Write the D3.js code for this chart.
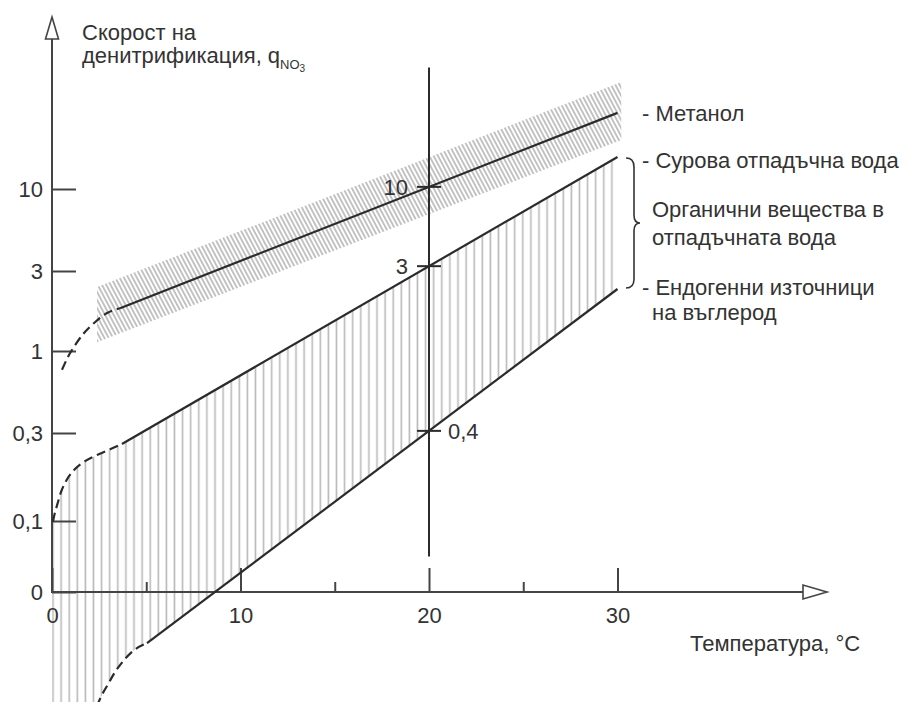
<!DOCTYPE html>
<html>
<head>
<meta charset="utf-8">
<script src="https://cdn.jsdelivr.net/npm/d3@7"></script>
<style>
  html, body { margin: 0; padding: 0; background: #fff; }
  svg { display: block; }
  text { font-family: "Liberation Sans", Arial, Helvetica, sans-serif; fill: #333; }
</style>
</head>
<body>
<svg id="chart" width="901" height="702"></svg>
<script>
// ---- Axis ticks ----------------------------------------------------------
const tempMajor = [0, 10, 20, 30];          // °C, labelled
const tempMinor = [5, 15, 25];              // °C, short ticks
const rateTicks = [0, 0.1, 0.3, 1, 3, 10];  // denitrification rate q_NO3
const rateAt20 = [10, 3, 0.4];              // rates marked on the 20 °C scale

// ---- Series: [temperature °C, rate] --------------------------------------
// Methanol as carbon source
const methanolCurve = [[0.53, 0.84], [0.85, 0.95], [1.27, 1.18], [1.70, 1.45],
                       [2.28, 1.72], [2.92, 1.95], [3.61, 2.07]];
const methanolLine = [[3.61, 2.07], [30, 28.8]];
const methanolBandUpper = [[2.39, 2.6], [30.2, 36.4]];
const methanolBandLower = [[2.39, 1.22], [30.2, 22.1]];

// Raw wastewater (upper edge of the organic-matter range)
const rawCurve = [[0.05, 0.099], [0.11, 0.111], [0.27, 0.136], [0.48, 0.166],
                  [0.80, 0.195], [1.22, 0.218], [1.75, 0.236], [2.39, 0.250],
                  [3.08, 0.263], [3.71, 0.275]];
const rawLine = [[3.71, 0.275], [30, 17.9]];

// Endogenous carbon sources (lower edge of the range)
const endoCurve = [[2.20, -0.180], [2.39, -0.161], [2.65, -0.145], [2.97, -0.130],
                   [3.34, -0.113], [3.82, -0.096], [4.35, -0.082], [5.04, -0.072]];
const endoLine = [[5.04, -0.072], [30, 2.55]];

// ---- Scales ---------------------------------------------------------------
const svg = d3.select("#chart");
const x = d3.scaleLinear().domain([0, 30]).range([52, 617.5]);
// quasi-logarithmic rate axis with evenly spaced steps
const y = d3.scaleLinear()
  .domain([0, 0.1, 0.3, 1, 3, 10, 30])
  .range([592, 521, 433, 351, 271, 189, 108]);

const ink = "#2b2b2b";
const axisInk = "#444";
const fs = 22;
const fmt = d => String(d).replace(".", ",");

const lineGen = d3.line().x(d => x(d[0])).y(d => y(d[1]));
const curveGen = d3.line().x(d => x(d[0])).y(d => y(d[1])).curve(d3.curveMonotoneX);

// ---- Hatch patterns -------------------------------------------------------
const defs = svg.append("defs");
const vh = defs.append("pattern").attr("id", "vhatch")
  .attr("patternUnits", "userSpaceOnUse")
  .attr("x", 49).attr("y", 0).attr("width", 8.1).attr("height", 20);
vh.append("line").attr("x1", 4).attr("x2", 4).attr("y1", -1).attr("y2", 21)
  .attr("stroke", "#b9b9b9").attr("stroke-width", 1.6);

const dh = defs.append("pattern").attr("id", "dhatch")
  .attr("patternUnits", "userSpaceOnUse")
  .attr("width", 3.8).attr("height", 10)
  .attr("patternTransform", "rotate(-28)");
dh.append("line").attr("x1", 1.9).attr("x2", 1.9).attr("y1", -1).attr("y2", 11)
  .attr("stroke", "#a4a4a4").attr("stroke-width", 1.3);

// ---- Organic-matter range (vertical hatching) ----------------------------
const rangeOutline = [
  ...rawCurve, rawLine[1],
  endoLine[1], ...endoCurve.slice().reverse(),
  [2.0, -0.3], [0, -0.3], [0, rawCurve[0][1]]
];
svg.append("path")
  .attr("d", lineGen(rangeOutline) + "Z")
  .attr("fill", "url(#vhatch)");

// ---- Methanol scatter band (diagonal hatching) ---------------------------
const bandOutline = [methanolBandUpper[0], methanolBandUpper[1],
                     methanolBandLower[1], methanolBandLower[0]];
svg.append("path")
  .attr("d", lineGen(bandOutline) + "Z")
  .attr("fill", "url(#dhatch)");

// ---- Axes -----------------------------------------------------------------
const styleAxis = g => {
  g.select(".domain").remove();
  g.selectAll(".tick line").attr("stroke", axisInk).attr("stroke-width", 2);
  g.selectAll(".tick text").attr("font-size", fs).attr("fill", "#333")
    .attr("font-family", "Liberation Sans, Arial, sans-serif");
};

svg.append("g")
  .attr("transform", `translate(${x(0)},0)`)
  .call(d3.axisLeft(y).tickValues(rateTicks).tickSize(-24).tickPadding(9).tickFormat(fmt))
  .call(styleAxis);

svg.append("g")
  .attr("transform", `translate(0,${y(0)})`)
  .call(d3.axisBottom(x).tickValues(tempMajor).tickSize(-24).tickPadding(15).tickFormat(fmt))
  .call(styleAxis);

svg.append("g")
  .attr("transform", `translate(0,${y(0)})`)
  .call(d3.axisBottom(x).tickValues(tempMinor).tickSize(-10).tickFormat(""))
  .call(styleAxis);

// axis lines with open arrowheads
const x0 = x(0), y0 = y(0);
const yTop = 17, xEnd = 827;
svg.append("line").attr("x1", x0).attr("x2", x0).attr("y1", y0 + 1).attr("y2", yTop + 22)
  .attr("stroke", axisInk).attr("stroke-width", 2);
svg.append("path")
  .attr("d", `M${x0},${yTop} L${x0 + 6.5},${yTop + 22} L${x0 - 6.5},${yTop + 22} Z`)
  .attr("fill", "#fff").attr("stroke", axisInk).attr("stroke-width", 1.6);
svg.append("line").attr("x1", x0 - 1).attr("x2", xEnd - 24).attr("y1", y0).attr("y2", y0)
  .attr("stroke", axisInk).attr("stroke-width", 2);
svg.append("path")
  .attr("d", `M${xEnd},${y0} L${xEnd - 24},${y0 - 7} L${xEnd - 24},${y0 + 7} Z`)
  .attr("fill", "#fff").attr("stroke", axisInk).attr("stroke-width", 1.6);

// ---- Series lines ---------------------------------------------------------
const solid = [methanolLine, rawLine, endoLine];
const dashed = [methanolCurve, rawCurve, endoCurve];

svg.selectAll("path.solid").data(solid).join("path")
  .attr("class", "solid")
  .attr("d", lineGen)
  .attr("fill", "none").attr("stroke", ink).attr("stroke-width", 2.2);

svg.selectAll("path.dashed").data(dashed).join("path")
  .attr("class", "dashed")
  .attr("d", curveGen)
  .attr("fill", "none").attr("stroke", ink).attr("stroke-width", 2.2)
  .attr("stroke-dasharray", "9,5");

// ---- 20 °C reference scale ------------------------------------------------
const x20 = x(20);
svg.append("line").attr("x1", x20).attr("x2", x20)
  .attr("y1", y(0.05)).attr("y2", y(40))
  .attr("stroke", ink).attr("stroke-width", 2);

// where each line crosses 20 °C
const crossAt20 = seg => {
  const [a, b] = seg;
  const t = (20 - a[0]) / (b[0] - a[0]);
  return y(a[1]) + t * (y(b[1]) - y(a[1]));
};
solid.forEach((seg, i) => {
  const yy = crossAt20(seg);
  svg.append("line").attr("x1", x20 - 12).attr("x2", x20 + 12)
    .attr("y1", yy).attr("y2", yy)
    .attr("stroke", ink).attr("stroke-width", 2);
  const right = i === solid.length - 1;
  svg.append("text")
    .attr("x", right ? x20 + 19 : x20 - 21)
    .attr("y", yy).attr("dy", "0.35em")
    .attr("text-anchor", right ? "start" : "end")
    .attr("font-size", fs)
    .text(fmt(rateAt20[i]));
});

// ---- Axis titles ----------------------------------------------------------
const yTitle = svg.append("g");
yTitle.append("text").attr("x", 82).attr("y", 40).attr("font-size", fs).text("Скорост на");
const t2 = yTitle.append("text").attr("x", 82).attr("y", 63).attr("font-size", fs);
t2.append("tspan").text("денитрификация, q");
t2.append("tspan").attr("font-size", 13).attr("dy", 6).text("NO");
t2.append("tspan").attr("font-size", 10).attr("dy", 3).text("3");

svg.append("text").attr("x", 690).attr("y", 651).attr("font-size", fs)
  .text("Температура, °C");

// ---- Series labels --------------------------------------------------------
const labels = [
  ["- Метанол", 642, 121],
  ["- Сурова отпадъчна вода", 642, 168],
  ["Органични вещества в", 652, 217],
  ["отпадъчната вода", 652, 245],
  ["- Ендогенни източници", 642, 295],
  ["на въглерод", 652, 320]
];
svg.selectAll("text.lbl").data(labels).join("text")
  .attr("class", "lbl")
  .attr("x", d => d[1]).attr("y", d => d[2])
  .attr("font-size", fs)
  .text(d => d[0]);

// brace grouping the organic-matter range
const bt = y(rawLine[1][1]) + 1, bb = y(endoLine[1][1]) - 1, bm = (bt + bb) / 2;
const bx0 = 626, bx1 = 634, bx2 = 640;
svg.append("path")
  .attr("d", `M${bx0},${bt} Q${bx1},${bt} ${bx1},${bt + 9} L${bx1},${bm - 8}
              Q${bx1},${bm} ${bx2},${bm} Q${bx1},${bm} ${bx1},${bm + 8}
              L${bx1},${bb - 9} Q${bx1},${bb} ${bx0},${bb}`)
  .attr("fill", "none").attr("stroke", "#333").attr("stroke-width", 1.6);
</script>
</body>
</html>
